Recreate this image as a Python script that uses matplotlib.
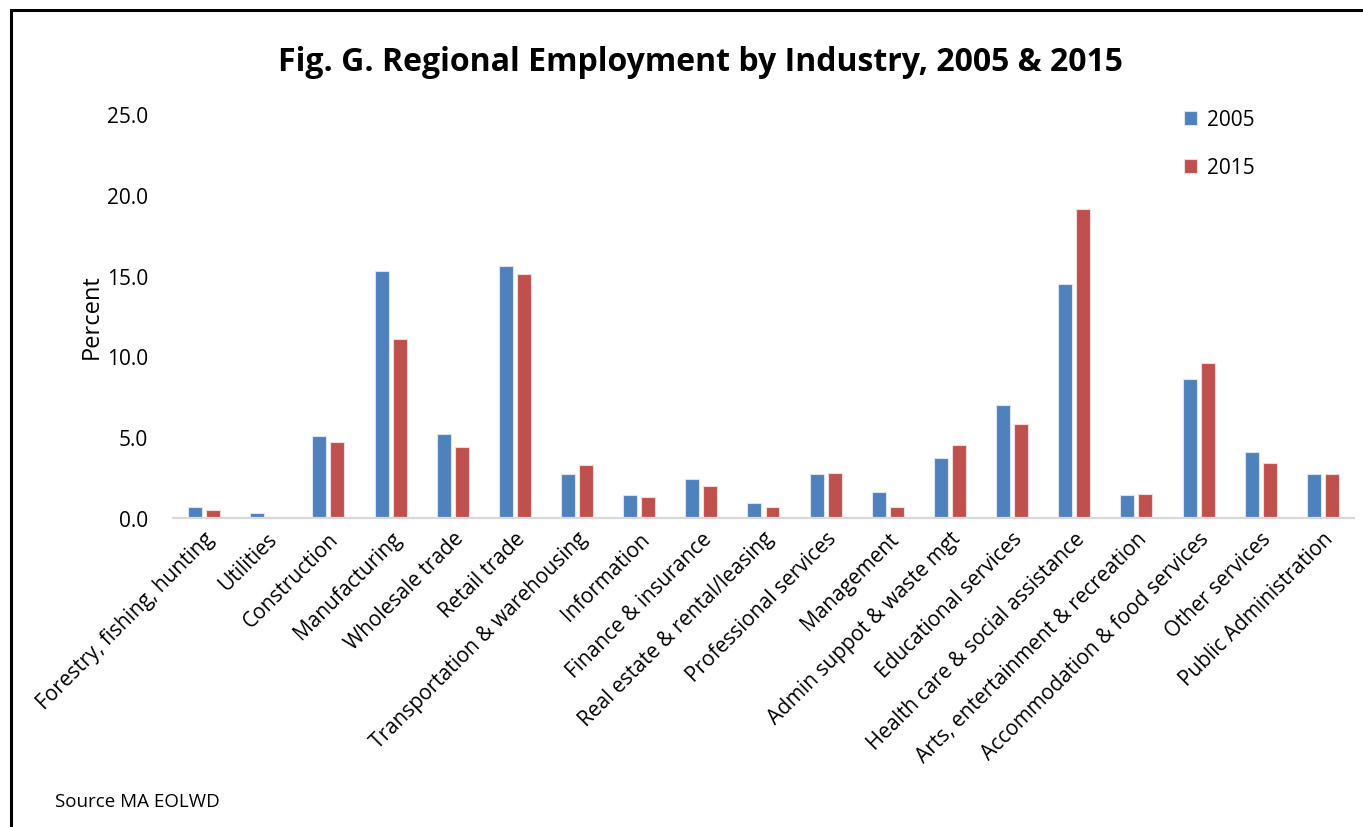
import matplotlib.pyplot as plt
import numpy as np
from matplotlib.patches import Rectangle

industries = [
    "Forestry, fishing, hunting", "Utilities", "Construction", "Manufacturing",
    "Wholesale trade", "Retail trade", "Transportation & warehousing",
    "Information", "Finance & insurance", "Real estate & rental/leasing",
    "Professional services", "Management", "Admin suppot & waste mgt",
    "Educational services", "Health care & social assistance",
    "Arts, entertainment & recreation", "Accommodation & food services",
    "Other services", "Public Administration",
]
pct_2005 = [0.7, 0.3, 5.1, 15.3, 5.2, 15.6, 2.7, 1.4, 2.4, 0.9,
            2.7, 1.6, 3.7, 7.0, 14.5, 1.4, 8.6, 4.1, 2.7]
pct_2015 = [0.5, 0.05, 4.7, 11.1, 4.4, 15.1, 3.3, 1.3, 2.0, 0.7,
            2.8, 0.7, 4.5, 5.8, 19.1, 1.5, 9.6, 3.4, 2.7]
yticks = [0, 5, 10, 15, 20, 25]

plt.rcParams['font.family'] = ['Open Sans', 'DejaVu Sans']

fig = plt.figure(figsize=(13.63, 8.28), dpi=100)
ax = fig.add_axes([0.1269, 0.3732, 0.8665, 0.4879])

x = np.arange(len(industries))
w = 0.225
off = 0.145
ax.bar(x - off, pct_2005, w, color='#4F81BD', edgecolor='#dce6f2', linewidth=0.8, label='2005')
ax.bar(x + off, pct_2015, w, color='#C0504D', edgecolor='#f2dcdb', linewidth=0.8, label='2015')

ax.set_xlim(-0.5, len(industries) - 0.5)
ax.set_ylim(0, 25)
ax.set_yticks(yticks)
ax.set_yticklabels(['{:.1f}'.format(v) for v in yticks], fontsize=15)
ax.set_xticks(x)
ax.set_xticklabels(industries, rotation=45, ha='right', rotation_mode='anchor', fontsize=15)
ax.tick_params(axis='x', length=0, pad=7)
ax.tick_params(axis='y', length=0, pad=18)

for s in ['top', 'right', 'left']:
    ax.spines[s].set_visible(False)
ax.spines['bottom'].set_color('#d9d9d9')
ax.spines['bottom'].set_linewidth(1.6)

ax.set_ylabel('Percent', fontsize=17, labelpad=2)

ax.legend(loc='upper right', bbox_to_anchor=(0.932, 1.058), frameon=False, fontsize=15,
          handlelength=0.6, handleheight=0.6, handletextpad=0.5, labelspacing=1.3)

fig.text(0.514, 0.925, 'Fig. G. Regional Employment by Industry, 2005 & 2015',
         ha='center', va='center', fontsize=23, fontweight='bold')
fig.text(0.04, 0.031, 'Source MA EOLWD', ha='left', va='center', fontsize=13.5)

# outer frame, open at the right and bottom edges
fig.patches.append(Rectangle((11 / 1363, -0.1), 1.2, 0.1 + (828 - 11) / 828,
                             transform=fig.transFigure, fill=False,
                             edgecolor='black', linewidth=2.2))

fig.savefig('out.png', dpi=100)
